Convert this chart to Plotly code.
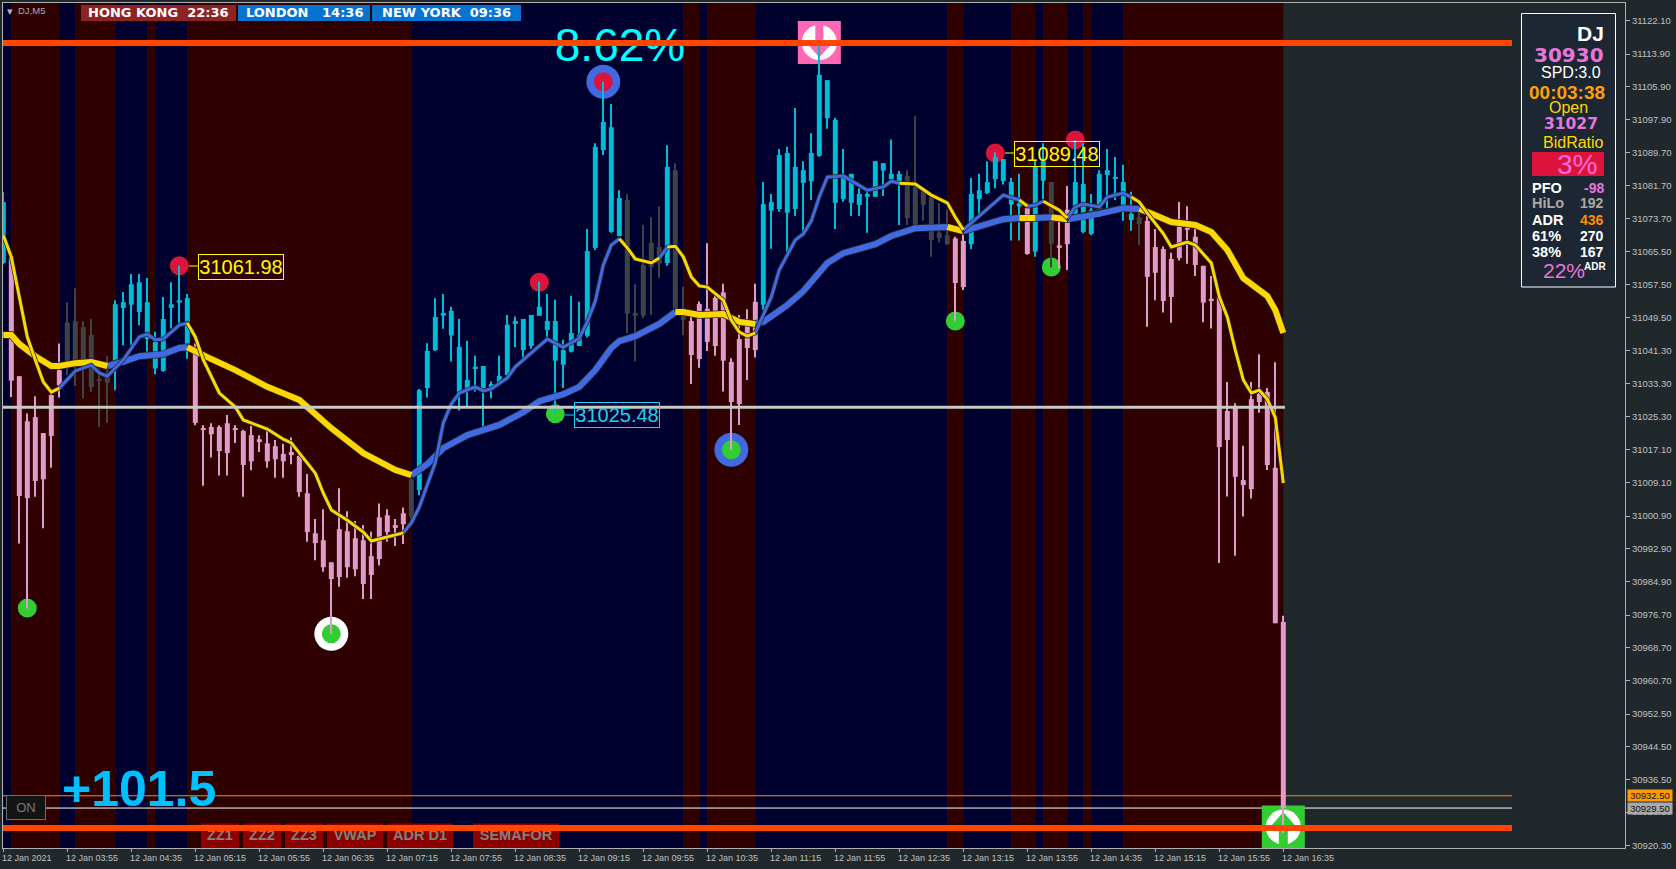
import plotly.graph_objects as go

# ---------- data ----------
body_top = [31077.7,31064.3,31035.1,31024.1,31025.1,31021.2,31030.5,31036.6,31048.2,31048.6,
31047.1,31045.2,31034.1,31035.0,31052.7,31053.2,31057.6,31058.1,31053.2,31043.5,
31049.1,31052.7,31053.7,31054.2,31041.1,31022.0,31022.7,31022.7,31023.6,31022.1,
31021.7,31020.7,31019.7,31018.7,31018.0,31016.1,31016.6,31015.6,31006.5,30996.7,
30995.0,30989.6,30997.7,30997.2,30995.5,30995.0,30991.1,31000.6,31001.1,30998.7,
31001.6,31009.9,31031.7,31041.3,31049.6,31050.6,31051.1,31042.3,31034.2,31037.1,
31037.6,31033.2,31035.2,31047.7,31048.6,31049.1,31050.1,31052.1,31048.6,31048.6,
31041.5,31045.7,31045.2,31065.7,31091.2,31097.3,31096.0,31078.7,31078.2,31050.6,
31062.3,31067.7,31066.7,31086.3,31085.5,31049.8,31048.6,31052.8,31051.6,31054.3,
31055.6,31038.6,31044.2,31047.7,31053.3,31077.2,31077.7,31089.2,31089.7,31086.3,
31085.5,31089.7,31108.8,31107.5,31097.8,31084.1,31084.6,31079.7,31079.7,31087.7,
31087.2,31084.6,31084.6,31084.1,31081.5,31080.6,31078.9,31070.2,31069.6,31068.8,
31068.2,31079.7,31080.6,31082.6,31088.7,31088.2,31082.6,31077.4,31076.2,31086.3,
31087.7,31082.6,31067.1,31075.8,31082.6,31082.1,31075.8,31084.6,31085.5,31083.5,
31082.6,31074.8,31074.0,31073.1,31066.7,31066.2,31063.8,31071.7,31071.4,31069.2,
31062.1,31053.7,31054.6,31026.6,31027.7,31009.7,31029.5,31030.8,31031.3,31012.7,30975.0]
body_bot = [31062.8,31034.0,31005.8,31005.3,31009.5,31009.9,31020.5,31032.9,31038.6,31039.0,
31038.8,31032.4,31034.1,31033.5,31038.6,31051.8,31052.6,31050.8,31044.2,31037.0,
31036.4,31051.8,31053.1,31043.1,31023.7,31022.0,31020.9,31016.8,31016.3,31022.1,
31013.4,31014.3,31019.0,31014.3,31014.8,31014.3,31015.8,31006.8,30997.0,30994.3,
30988.4,30985.5,30986.0,30988.4,30987.9,30984.3,30986.5,30990.4,30997.0,30998.0,
30998.9,31000.9,31007.3,31032.2,31041.5,31049.9,31045.1,31031.1,31031.8,31037.1,
31032.2,31032.2,31033.2,31035.4,31047.9,31041.5,31042.5,31049.9,31046.4,31038.9,
31037.9,31041.1,31042.5,31045.0,31066.5,31090.4,31070.4,31069.4,31050.4,31049.9,
31049.9,31061.8,31062.7,31062.8,31051.3,31048.9,31040.3,31039.3,31043.5,31042.5,
31038.9,31028.8,31028.3,31042.0,31041.5,31052.6,31075.6,31076.0,31075.1,31076.0,
31082.4,31082.8,31089.0,31098.2,31077.5,31078.4,31077.5,31077.0,31079.0,31079.0,
31085.4,31083.3,31082.7,31073.8,31071.8,31077.0,31068.4,31068.9,31067.4,31057.9,
31056.9,31067.4,31078.4,31079.9,31083.3,31082.8,31077.1,31076.6,31065.0,31065.6,
31082.9,31067.5,31066.5,31067.4,31074.1,31070.4,31069.9,31075.8,31084.3,31083.5,
31076.7,31073.3,31072.3,31059.4,31060.4,31053.5,31054.5,31064.0,31070.9,31062.3,
31053.1,31053.7,31017.8,31019.5,31010.5,31008.5,31007.5,31028.8,31013.4,30974.7,30929.5]
high = [31080.1,31065.0,31035.1,31026.0,31030.2,31021.2,31031.2,31043.1,31053.2,31056.6,
31048.6,31049.1,31037.0,31040.0,31053.7,31055.7,31060.1,31060.1,31059.1,31046.0,
31054.5,31058.1,31062.1,31055.2,31043.1,31023.1,31023.6,31023.1,31025.6,31023.1,
31022.0,31023.0,31020.7,31022.6,31019.5,31018.6,31020.1,31016.4,31011.2,31000.2,
31002.6,30989.6,31007.7,31002.1,30999.7,30998.7,30997.1,31004.0,31002.6,31000.2,
31003.0,31010.9,31032.0,31043.2,31054.2,31055.2,31052.1,31049.1,31043.8,31040.1,
31037.6,31033.8,31040.1,31050.1,31049.7,31049.1,31050.1,31058.3,31055.2,31053.8,
31044.0,31054.8,31053.3,31071.1,31092.1,31107.1,31101.7,31080.6,31079.7,31057.6,
31072.1,31074.0,31076.7,31091.6,31087.2,31057.0,31049.7,31053.4,31067.6,31055.4,
31057.7,31039.5,31050.1,31051.5,31057.7,31082.6,31079.7,31090.7,31091.2,31100.7,
31087.7,31094.5,31116.5,31107.5,31098.3,31090.7,31084.6,31081.1,31080.6,31087.7,
31087.2,31093.0,31085.3,31085.5,31098.7,31080.6,31079.4,31077.4,31075.8,31069.2,
31070.1,31083.6,31084.6,31087.7,31089.8,31088.2,31083.6,31084.6,31077.4,31088.0,
31092.1,31082.6,31073.6,31081.6,31092.8,31092.1,31079.7,31085.5,31090.7,31088.7,
31086.8,31080.2,31076.6,31075.1,31071.1,31066.8,31065.3,31077.7,31076.7,31071.8,
31062.1,31059.6,31054.6,31033.7,31028.5,31018.1,31033.7,31040.5,31032.2,31038.5,30976.5]
low = [31062.5,31030.0,30994.2,30978.3,31005.6,30997.9,31012.7,31029.9,31035.4,31032.7,
31029.7,31031.2,31022.7,31023.7,31031.7,31042.7,31042.7,31047.6,31041.1,31035.6,
31036.2,31046.8,31048.0,31039.4,31023.1,31008.3,31015.2,31010.8,31010.8,31018.8,
31005.6,31012.1,31016.6,31012.7,31010.3,31010.3,31013.6,31005.6,30994.6,30990.1,
30987.3,30972.1,30983.6,30985.8,30986.2,30980.6,30980.6,30988.8,30994.6,30993.6,
30994.1,30998.3,31006.0,31029.9,31041.3,31046.7,31038.7,31026.7,31027.5,31031.4,
31022.4,31029.7,31033.0,31035.2,31042.2,31039.1,31041.8,31049.9,31044.0,31026.0,
31032.2,31040.9,31042.5,31044.6,31066.0,31089.2,31070.2,31069.2,31045.6,31038.7,
31049.3,31050.1,31059.2,31062.1,31050.9,31045.2,31033.2,31037.2,31041.3,31040.1,
31031.4,31017.1,31023.2,31034.2,31039.7,31051.3,31066.3,31075.3,31065.0,31074.3,
31069.2,31078.2,31088.8,31095.6,31071.1,31077.8,31074.3,31074.3,31070.2,31079.0,
31079.2,31083.1,31072.1,31072.1,31071.8,31073.1,31064.3,31067.8,31067.2,31048.7,
31056.2,31066.2,31074.8,31079.7,31081.1,31082.0,31068.3,31068.3,31064.8,31064.3,
31078.2,31061.7,31061.5,31061.1,31074.1,31070.1,31069.6,31074.9,31076.2,31078.2,
31073.1,31070.7,31067.2,31047.2,31053.7,31050.7,31048.2,31063.4,31062.6,31059.6,
31048.3,31046.8,30989.4,31005.7,30991.2,31000.8,31005.2,31026.2,31012.2,30974.7,30923.4]
bar_kind = ("u"+"d"*7+"n"*6+"u"*10+"d"*27+"n"+"u"*26+"n"*5+"u"+"n"*2+"d"*9+"u"*18+"n"*6
            +"d"*2+"u"*7+"d"+"u"*2+"n"+"d"*2+"u"*8+"n"+"d"*18)

fast_x = [0,1,2,3,4,5,6,7,9,11,12,13,15,17,18,19,20,22,23,24,25,27,29,30,33,35,36,37,39,40,41,43,45,46,50,
51,52,54,55,56,57,59,60,61,63,64,66,68,70,72,73,74,75,76,77,78,79,81,82,83,84,85,86,87,88,90,91,92,93,94,
96,97,99,100,101,102,103,105,108,110,111,112,114,116,118,119,120,125,127,128,129,130,132,133,134,135,137,138,
140,141,142,143,145,146,148,149,151,152,153,154,155,156,157,158,159,160]
fast_y = [31069.6,31064.3,31054.5,31044.7,31039.1,31033.7,31031.2,31032.2,
31036.4,31037.8,31035.9,31035.1,31039.1,31044.7,31045.4,31044.0,31044.2,31047.6,31048.1,
31044.7,31039.1,31031.0,31027.6,31024.4,31022.2,31019.7,31018.8,31016.3,31011.4,31006.5,31002.4,30999.9,30997.0,30994.8,30996.8,
30999.2,31003.1,31014.0,31023.7,31028.3,31031.0,31032.5,31031.5,31032.0,31034.7,31037.4,31040.8,31044.2,31042.2,31044.4,31048.4,31053.5,31062.3,31067.2,31068.7,
31066.5,31063.8,31062.8,31064.0,31066.7,31066.9,31064.3,31059.4,31057.2,31056.9,31053.7,31048.8,31045.9,31044.9,31045.7,
31054.5,31061.1,31068.4,31069.9,31073.1,31079.0,31083.8,31084.1,31080.6,31081.4,31082.8,31082.3,
31082.1,31079.4,31077.5,31074.0,31070.9,
31079.4,31078.2,31076.7,31076.9,31077.9,31075.7,31073.8,
31076.5,31077.2,31076.5,31078.9,31079.9,31078.9,
31077.7,31075.0,31070.0,31066.7,31067.9,31067.2,31062.8,31054.5,31049.6,31041.5,31034.2,31031.0,31031.7,31029.5,31025.0,31009.0]
fast_falling = [(0,7),(23,50),(77,82),(83,94),(112,120),(127,128),(130,133),(141,160)]
fast_rising = [(7,23),(50,77),(82,83),(94,112),(120,127),(128,130),(133,141)]

slow_x = [0,1,2,4,6,7,9,11,13,15,17,20,22,23,25,26,29,33,37,41,45,49,51,52,53,55,58,62,65,67,70,72,74,76,77,79,82,84,85,87,90,92,94,95,98,100,103,105,109,111,114,118,120,125,127,129,131,133,137,140,142,143,146,149,151,153,155,157,158,159,160]
slow_y = [31045.2,31045.2,31043.0,31040.0,31037.6,31037.6,31038.3,31038.6,31037.6,
31038.6,31040.0,31040.5,31042.0,31042.2,
31040.5,31039.3,31036.6,31032.5,31029.3,31022.4,31016.3,31012.2,31010.9,
31012.2,31013.6,31017.5,31020.7,31023.2,31026.3,31029.0,31030.7,31032.5,31036.6,31042.0,31043.7,31044.9,31047.9,31050.8,
31050.8,31050.1,31050.3,31048.4,31047.9,
31048.4,31052.5,31055.9,31062.8,31065.2,31067.4,31069.4,31071.3,31071.6,
31070.6,31073.5,31073.8,31073.8,31074.0,31073.5,
31074.8,31076.2,31076.0,
31075.3,31072.8,31072.1,31070.4,31066.0,31059.1,31056.2,31054.7,31051.3,31045.7]
slow_falling = [(0,13),(23,51),(84,94),(118,120),(127,129),(131,133),(142,160)]
slow_rising = [(13,23),(51,84),(94,118),(120,127),(129,131),(133,142)]

red_x = [22,67,124,134]
red_y = [31062.1,31058.1,31089.7,31092.9]
green_x = [3,69,119,131]
green_y = [30978.4,31025.9,31048.6,31061.8]
ringed_x = [75,41,91]
ringed_y = [31107.1,30972.1,31017.1]
ringed_dot = ["#dc143c","#32cd32","#32cd32"]
ringed_ring = ["#4169e1","#ffffff","#4169e1"]

session_edges = [0,1,7,9,14,18,19,23,51,85,87,88,94,118,120,126,129,130,133,135,136,140,160]
session_kinds = "nrnrnrnrnrnrnrnrnrnrnr"

hline_top, hline_bottom = 31116.6, 30924.6
hline_silver = 31027.5
ask_price, bid_price = 30932.5, 30929.5

y_ticks = [31122.1,31113.9,31105.9,31097.9,31089.7,31081.7,31073.7,31065.5,31057.5,31049.5,31041.3,31033.3,31025.3,
           31017.1,31009.1,31000.9,30992.9,30984.9,30976.7,30968.7,30960.7,30952.5,30944.5,30936.5,30928.5,30920.3]
x_tick_bars = [8*k for k in range(21)]
x_tick_text = ["12 Jan 2021","12 Jan 03:55","12 Jan 04:35","12 Jan 05:15","12 Jan 05:55","12 Jan 06:35","12 Jan 07:15",
 "12 Jan 07:55","12 Jan 08:35","12 Jan 09:15","12 Jan 09:55","12 Jan 10:35","12 Jan 11:15","12 Jan 11:55","12 Jan 12:35",
 "12 Jan 13:15","12 Jan 13:55","12 Jan 14:35","12 Jan 15:15","12 Jan 15:55","12 Jan 16:35"]

# ---------- geometry ----------
W, H = 1676, 869
L, R, T, B = 3, 51, 3, 21
PW, PH = W-L-R, H-T-B
X0 = -0.04
X1 = X0 + PW/8
Y_TOP, Y_BOT = 31126.38, 30919.73
BG = "#21282c"
CYAN, PINK, GREY = "#00bcd4", "#e29acd", "#3e4346"
YEL, BLUE = "#ffd700", "#4169e1"
OR = "#ff4500"

def dx(px): return X0 + (px-L)/8
def dy(py): return Y_TOP - (py-T)*(Y_TOP-Y_BOT)/PH
def ax(px): return (px-L)/PW
def ay(py): return 1-(py-T)/PH

shapes, anns = [], []
def rect(x0,y0,x1,y1,fill,line=None,lw=1):
    shapes.append(dict(type="rect",xref="x",yref="y",layer="below",x0=dx(x0),x1=dx(x1),y0=dy(y0),y1=dy(y1),
                       fillcolor=fill,line=dict(color=line,width=lw) if line else dict(width=0)))
def pxshape(kind,xa,ya,r,fill):
    shapes.append(dict(type=kind,xref="x",yref="y",layer="below",xsizemode="pixel",ysizemode="pixel",
                       xanchor=xa,yanchor=ya,x0=-r,x1=r,y0=-r,y1=r,fillcolor=fill,line=dict(width=0)))
def pxpath(xa,ya,path,fill):
    shapes.append(dict(type="path",xref="x",yref="y",layer="below",xsizemode="pixel",ysizemode="pixel",
                       xanchor=xa,yanchor=ya,path=path,fillcolor=fill,line=dict(width=0)))
def hl(price,x1,color,w):
    shapes.append(dict(type="line",xref="x",yref="y",layer="below",x0=X0,x1=x1,y0=price,y1=price,line=dict(color=color,width=w)))
def txt(s,x,y,size,color,anchor="center",font="Liberation Sans",bold=False,**kw):
    anns.append(dict(text=f"<b>{s}</b>" if bold else s,xref="paper",yref="paper",x=ax(x),y=ay(y),xanchor=anchor,yanchor="middle",
                     showarrow=False,font=dict(size=size,color=color,family=font),borderpad=0,**kw))

# session bands
for a,b,k in zip(session_edges[:-1],session_edges[1:],session_kinds):
    shapes.append(dict(type="rect",xref="x",yref="y",layer="below",x0=a,x1=b,y0=Y_BOT,y1=Y_TOP,
                       fillcolor="#2e0000" if k=="r" else "#00002e",line=dict(width=0)))
# thin price lines
end_lines = dx(1512)
hl(ask_price,end_lines,"#ff8c00",1)
hl(bid_price,end_lines,"#ffffff",1)
# session clocks
rect(81,5,236,21,"#8e2323"); rect(238,5,370,21,"#0773d1"); rect(372,5,521,21,"#0773d1")
# buttons
btns = [("ZZ1",201,239),("ZZ2",243,281),("ZZ3",285,323),("VWAP",327,383),("ADR D1",387,453),("SEMAFOR",473,559)]
for _,a,b in btns:
    shapes.append(dict(type="rect",xref="x",yref="y",layer="below",x0=dx(a),x1=dx(b),y0=dy(823.5),y1=dy(848),fillcolor="#8b0000",line=dict(width=0)))
# info panel
rect(1521.5,13.5,1615.5,287,"#1c2733","#ffffff",1)
rect(1532,152,1604,176,"#dc143c")
# dots
for x,y in zip(red_x,red_y): pxshape("circle",x,y,9.5,"#dc143c")
for x,y in zip(green_x,green_y): pxshape("circle",x,y,9.5,"#32cd32")
for x,y,d,r in zip(ringed_x,ringed_y,ringed_dot,ringed_ring):
    pxshape("circle",x,y,17,r); pxshape("circle",x,y,9.5,d)
# arrow badges
top_c, bot_c = dy(42.5), dy(827)
pxshape("rect",102,top_c,21.5,"#ff69b4"); pxshape("circle",102,top_c,17.5,"#ffffff")
pxpath(102,top_c,"M 0 -15 L 14 1 L 4 1 L 4 18 L -4 18 L -4 1 L -14 1 Z","#ff69b4")
pxshape("rect",160,bot_c,21.5,"#32cd32"); pxshape("circle",160,bot_c,17.5,"#ffffff")
pxpath(160,bot_c,"M 0 15 L 14 -1 L 4.5 -1 L 4.5 -18 L -4.5 -18 L -4.5 -1 L -14 -1 Z","#32cd32")
# label connectors
for x0,x1,py,c in [(189,198,266,"#ffff00"),(1005,1014,153,"#ffff00"),(565,574,415,"#22cfee")]:
    shapes.append(dict(type="line",xref="x",yref="y",layer="below",x0=dx(x0),x1=dx(x1),y0=dy(py),y1=dy(py),line=dict(color=c,width=1)))

fig = go.Figure()

# candles
for kind,color in (("n",GREY),("d",PINK),("u",CYAN)):
    idx = [i for i,k in enumerate(bar_kind) if k==kind]
    fig.add_trace(go.Bar(x=idx,y=[high[i]-low[i] for i in idx],base=[low[i] for i in idx],width=0.125,
                         marker=dict(color=color,line=dict(width=0)),hoverinfo="skip"))
    fig.add_trace(go.Bar(x=idx,y=[max(body_top[i]-body_bot[i],0.35) for i in idx],base=[body_bot[i] for i in idx],width=0.625,
                         marker=dict(color=color,line=dict(width=0)),hoverinfo="skip"))

# big % and button captions sit under the heavy lines
fig.add_trace(go.Scatter(x=[dx(620)],y=[dy(49)],mode="text",text=["8.62%"],textposition="middle center",
                         textfont=dict(size=46,color="#00ffff",family="Liberation Sans"),hoverinfo="skip"))
fig.add_trace(go.Scatter(x=[dx((a+b)/2) for _,a,b in btns],y=[dy(836)]*len(btns),mode="text",text=[n for n,_,_ in btns],
                         textposition="middle center",
                         textfont=dict(size=14.5,color="#808080",family="Liberation Sans",weight="bold"),hoverinfo="skip"))

def ma_traces(xs,ys,falling,rising,w):
    fig.add_trace(go.Scatter(x=xs,y=ys,mode="lines",line=dict(color="#23292c",width=w+1.5),hoverinfo="skip"))
    for runs,color in ((rising,BLUE),(falling,YEL)):
        for a,b in runs:
            sx=[x for x in xs if a<=x<=b]
            sy=[y for x,y in zip(xs,ys) if a<=x<=b]
            fig.add_trace(go.Scatter(x=sx,y=sy,mode="lines",line=dict(color=color,width=w),hoverinfo="skip"))
ma_traces(slow_x,slow_y,slow_falling,slow_rising,6)
ma_traces(fast_x,fast_y,fast_falling,fast_rising,3)

# heavy lines
fig.add_trace(go.Scatter(x=[X0,160.2],y=[hline_silver]*2,mode="lines",line=dict(color="#c8c8c4",width=3),hoverinfo="skip"))
for p in (hline_top,hline_bottom):
    fig.add_trace(go.Scatter(x=[X0,end_lines],y=[p,p],mode="lines",line=dict(color=OR,width=6),hoverinfo="skip"))

# axis dates (left aligned on tick)
for b,s in zip(x_tick_bars,x_tick_text):
    anns.append(dict(text=s,xref="x",yref="paper",x=b,y=ay(857.5),xanchor="left",yanchor="middle",showarrow=False,xshift=-2,
                     font=dict(size=9,color="#c0c0c0",family="Liberation Sans"),borderpad=0))

# session labels
txt("HONG KONG\u00a0\u00a022:36",158.5,13,13,"#fff",font="DejaVu Sans",bold=True)
txt("LONDON\u00a0\u00a0\u00a014:36",304,13,13,"#fff",font="DejaVu Sans",bold=True)
txt("NEW YORK\u00a0\u00a009:36",446,13,13,"#fff",font="DejaVu Sans",bold=True)
txt("▾",10,11,11,"#b0b0b0")
txt("DJ,M5",17,10.5,9.5,"#b0b0b0",anchor="left")
# value tags
def tag(s,cx,cy,color):
    anns.append(dict(text=s,xref="paper",yref="paper",x=ax(cx),y=ay(cy),xanchor="center",yanchor="middle",showarrow=False,
                     width=84,height=24,bordercolor=color,borderwidth=1,borderpad=0,font=dict(size=20,color=color,family="Liberation Sans")))
tag("31061.98",240.5,266.5,"#ffff00")
tag("31089.48",1056.5,153.5,"#ffff00")
tag("31025.48",616.5,415.5,"#22cfee")
# profit + switch
txt("+101.5",139,789,50,"#00bfff",font="Liberation Sans",bold=True)
anns.append(dict(text="ON",xref="paper",yref="paper",x=ax(25.5),y=ay(807),xanchor="center",yanchor="middle",showarrow=False,
                 width=38,height=23,bgcolor="#141414",bordercolor="#6e6e6e",borderwidth=1,borderpad=0,
                 font=dict(size=13,color="#7a7a7a",family="Liberation Sans")))
# panel text
PNK="#e676dc"
txt("DJ",1605,33.5,21,"#ffffff",anchor="right",font="Liberation Sans",bold=True)
txt("30930",1605,55.5,20,PNK,anchor="right",font="DejaVu Sans",bold=True)
txt("SPD:3.0",1571,73,16,"#ffffff")
txt("00:03:38",1567,92,19,"#ff9f0a",font="Liberation Sans",bold=True)
txt("Open",1568.5,108,16,"#ffd700")
txt("31027",1570.5,124,15.5,PNK,font="DejaVu Sans",bold=True)
txt("BidRatio",1573,142,16,"#ffd700")
txt("3%",1576.5,164,28,"#ff69d8")
rows=[("PFO","-98","#fff",PNK,187.5),("HiLo","192","#a9a9a9","#a9a9a9",203.5),("ADR","436","#fff","#ff8c00",219.5),
      ("61%","270","#fff","#fff",236),("38%","167","#fff","#fff",252)]
for a,b,c1,c2,y in rows:
    txt(a,1530.5,y,14.5,c1,anchor="left",bold=True)
    txt(b,1604.5,y,14,c2,anchor="right",bold=True)
txt("22%",1563.5,271,21,PNK)
txt("ADR",1594.5,266,10,"#fff",bold=True)
# price tags
for p,bg in ((ask_price,"#ff9a0a"),(bid_price,"#a9a9a9")):
    anns.append(dict(text=f"{p:.2f}",xref="paper",yref="y",x=ax(1650),y=p,xanchor="center",yanchor="middle",showarrow=False,
                     width=44,height=11,bgcolor=bg,borderpad=0,font=dict(size=9.5,color="#111",family="Liberation Sans")))

fig.update_layout(width=W,height=H,autosize=False,margin=dict(l=L,r=R,t=T,b=B,pad=0),paper_bgcolor=BG,plot_bgcolor=BG,
    barmode="overlay",showlegend=False,shapes=shapes,annotations=anns,hovermode=False,
    xaxis=dict(range=[X0,X1],tickvals=x_tick_bars,ticktext=[""]*len(x_tick_bars),ticks="outside",ticklen=3,tickcolor="#b0b0b0",
               showgrid=False,zeroline=False,showline=True,mirror=True,linecolor="#b0b0b0",linewidth=1),
    yaxis=dict(range=[Y_BOT,Y_TOP],side="right",tickvals=y_ticks,ticktext=[f"{v:.2f}" for v in y_ticks],ticks="outside",ticklen=4,
               tickcolor="#b0b0b0",showgrid=False,zeroline=False,showline=True,mirror=True,linecolor="#b0b0b0",linewidth=1,
               tickfont=dict(size=9.5,color="#c0c0c0",family="Liberation Sans")))
fig.write_html("out.html",config=dict(displayModeBar=False),post_script="document.body.style.margin='0';document.body.style.overflow='hidden';")
